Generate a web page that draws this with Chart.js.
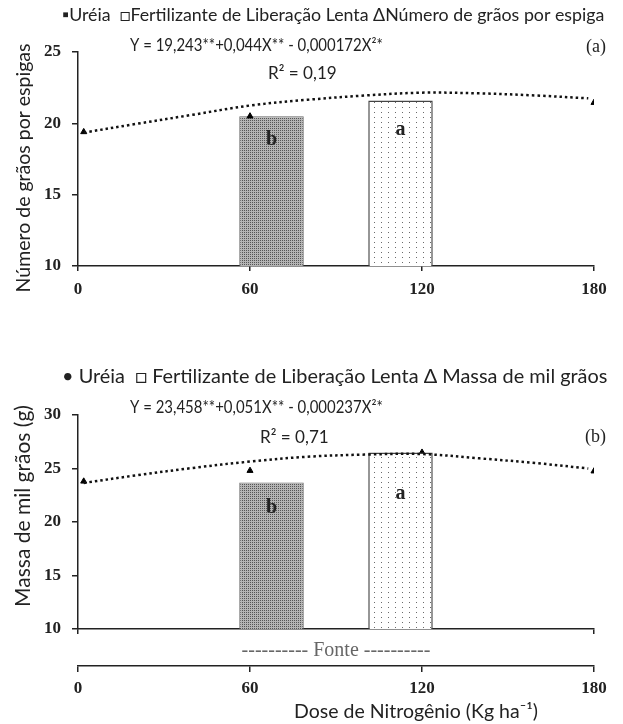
<!DOCTYPE html>
<html>
<head>
<meta charset="utf-8">
<script src="https://cdn.jsdelivr.net/npm/chart.js@4.4.1/dist/chart.umd.min.js"></script>
<style>
  html, body { margin: 0; padding: 0; background: #fff; }
  #wrap { position: relative; width: 623px; height: 724px; }
  #wrap canvas { position: absolute; left: 0; }
</style>
</head>
<body>
<div id="wrap">
  <canvas id="graos" width="623" height="330" style="top:0"></canvas>
  <canvas id="massa" width="623" height="384" style="top:340px"></canvas>
</div>
<script>
// doses de N (kg/ha)
const xTicks = [0, 60, 120, 180];
const barDoses = [67.5, 112.5];
const barLetters = ['b', 'a'];
const pointDoses = [2, 60, 120, 180];
const trendDoses = [2, 20, 40, 60, 80, 100, 120, 140, 160, 178];

// (a) número de grãos por espiga
const graosBars = [20.5, 21.6];
const graosPoints = [19.4, 20.5, 21.3, 21.45];
const graosTrend = [19.35, 19.95, 20.6, 21.25, 21.65, 21.95, 22.15, 22.1, 21.95, 21.75];

// (b) massa de mil grãos
const massaBars = [23.7, 26.5];
const massaPoints = [23.8, 24.8, 26.5, 24.75];
const massaTrend = [23.65, 24.35, 25.05, 25.65, 26.1, 26.3, 26.35, 25.95, 25.5, 25.0];

const serif = '"Liberation Serif", "Times New Roman", serif';
const sans = 'Lato, "Open Sans", sans-serif';
const ink = '#222';

const pts = (xs, ys) => xs.map((x, i) => ({ x: x, y: ys[i] }));

function makePattern(w, h, bg, dots, dotColor) {
  const c = document.createElement('canvas');
  c.width = w; c.height = h;
  const g = c.getContext('2d');
  g.fillStyle = bg;
  g.fillRect(0, 0, w, h);
  g.fillStyle = dotColor;
  dots.forEach(d => g.fillRect(d[0], d[1], 1, 1));
  return g.createPattern(c, 'repeat');
}
const ureiaFill = makePattern(2, 2, '#b4b4b4', [[0, 0]], '#555555');
const lentaFill = makePattern(7, 5, '#ffffff', [[3, 2]], '#6a6a6a');

// textos soltos (legenda, equação, R², títulos) e letras das barras
const notes = {
  id: 'notes',
  afterDatasetsDraw(chart, args, opts) {
    const ctx = chart.ctx;
    (opts.items || []).forEach(t => {
      ctx.save();
      ctx.font = t.font;
      ctx.fillStyle = t.color || ink;
      ctx.textAlign = t.align || 'center';
      ctx.textBaseline = 'middle';
      ctx.translate(t.x, t.y);
      if (t.rotate) ctx.rotate(t.rotate);
      if (t.sx) ctx.scale(t.sx, 1);
      ctx.fillText(t.text, 0, 0);
      ctx.restore();
    });
    (opts.letters || []).forEach((l, i) => {
      const bar = chart.getDatasetMeta(i).data[0];
      ctx.save();
      ctx.font = 'bold 20px ' + serif;
      ctx.fillStyle = ink;
      ctx.textAlign = 'center';
      ctx.textBaseline = 'middle';
      ctx.fillText(l, bar.x, bar.y + opts.letterOffsets[i]);
      ctx.restore();
    });
  }
};

function buildChart(id, o) {
  const tickFont = { family: serif, size: 17, weight: 'bold' };
  const xAxis = {
    type: 'linear', min: xTicks[0], max: xTicks[xTicks.length - 1], offset: false,
    ticks: { stepSize: 60, color: ink, font: tickFont, padding: 8 },
    grid: { drawOnChartArea: false, offset: false, tickLength: 5, color: ink, lineWidth: 1.5 },
    border: { color: ink, width: 1.5 },
    afterFit: s => { s.height = o.xHeight; }
  };
  const scales = {
    x: xAxis,
    y: {
      min: o.yMin, max: o.yMax,
      ticks: { stepSize: 5, color: ink, font: tickFont, padding: 11 },
      grid: { drawOnChartArea: false, tickLength: 6, color: ink, lineWidth: 1.5 },
      border: { color: ink, width: 1.5 },
      afterFit: s => { s.width = 78; }
    }
  };
  if (o.fonte) {
    // eixo de cima sem rótulos, com a "Fonte"; eixo de baixo com as doses
    xAxis.ticks.display = false;
    xAxis.afterBuildTicks = s => { s.ticks = s.ticks.filter(t => t.value === 0 || t.value === 180); };
    xAxis.title = { display: true, text: '---------- Fonte ----------', color: '#666',
      font: { family: serif, size: 20 }, padding: { top: 0, bottom: 3 } };
    scales.x2 = {
      type: 'linear', position: 'bottom', weight: 1, offset: false,
      min: xTicks[0], max: xTicks[xTicks.length - 1],
      ticks: { stepSize: 60, color: ink, font: tickFont, padding: 6 },
      grid: { drawOnChartArea: false, offset: false, tickLength: 6, color: ink, lineWidth: 1.5 },
      border: { color: ink, width: 1.5 },
      afterFit: s => { s.height = o.x2Height; }
    };
  }

  return new Chart(document.getElementById(id), {
    type: 'bar',
    data: {
      datasets: [
        { label: 'Uréia', data: [{ x: barDoses[0], y: o.bars[0] }],
          backgroundColor: ureiaFill, borderColor: '#666', borderWidth: 1, order: 4 },
        { label: 'Fertilizante de Liberação Lenta', data: [{ x: barDoses[1], y: o.bars[1] }],
          backgroundColor: lentaFill, borderColor: '#444', borderWidth: 1.5, order: 2 },
        { type: 'line', label: o.seriesName, data: pts(pointDoses, o.points),
          showLine: false, pointStyle: 'triangle', pointRadius: 3.5,
          pointBackgroundColor: '#000', pointBorderColor: '#000', pointBorderWidth: 1, order: 3 },
        { type: 'line', label: 'Regressão', data: pts(trendDoses, o.trend),
          borderColor: '#111', borderWidth: 2.5, borderDash: [2.5, 3], tension: 0.35,
          pointRadius: 0, fill: false, order: 1 }
      ]
    },
    options: {
      responsive: false,
      animation: false,
      events: [],
      datasets: { bar: { grouped: false, barPercentage: 0.5, categoryPercentage: 1, borderSkipped: false } },
      layout: { padding: { top: o.top, right: 29, left: 0, bottom: 0 } },
      scales: scales,
      plugins: {
        legend: { display: false },
        tooltip: { enabled: false },
        notes: { items: o.notes, letters: barLetters, letterOffsets: o.letterOffsets }
      }
    },
    plugins: [notes]
  });
}

buildChart('graos', {
  yMin: 10, yMax: 25, top: 52, xHeight: 64,
  bars: graosBars, points: graosPoints, trend: graosTrend,
  seriesName: 'Número de grãos por espiga',
  letterOffsets: [24, 29],
  notes: [
    { text: '▪Uréia  □Fertilizante de Liberação Lenta ΔNúmero de grãos por espiga', x: 62, y: 15, font: '17.8px ' + sans, align: 'left' },
    { text: 'Y = 19,243**+0,044X** - 0,000172X²*', x: 130, y: 46, font: '17px ' + sans, align: 'left', sx: 0.88 },
    { text: 'R² = 0,19', x: 268, y: 73, font: '18px ' + sans, align: 'left', sx: 0.95 },
    { text: '(a)', x: 606, y: 47, font: '18px ' + serif, align: 'right' },
    { text: 'Número de grãos por espigas', x: 24, y: 168, font: '19.5px ' + sans, rotate: -Math.PI / 2 }
  ]
});

buildChart('massa', {
  yMin: 10, yMax: 30, top: 75, xHeight: 37, x2Height: 58, fonte: true,
  bars: massaBars, points: massaPoints, trend: massaTrend,
  seriesName: 'Massa de mil grãos',
  letterOffsets: [25, 41],
  notes: [
    { text: '• Uréia  □ Fertilizante de Liberação Lenta Δ Massa de mil grãos', x: 62, y: 37, font: '19.9px ' + sans, align: 'left' },
    { text: 'Y = 23,458**+0,051X** - 0,000237X²*', x: 130, y: 68, font: '17px ' + sans, align: 'left', sx: 0.88 },
    { text: 'R² = 0,71', x: 260, y: 97, font: '18px ' + sans, align: 'left', sx: 0.95 },
    { text: '(b)', x: 606, y: 97, font: '18px ' + serif, align: 'right' },
    { text: 'Massa de mil grãos (g)', x: 23, y: 166, font: '21px ' + sans, rotate: -Math.PI / 2 },
    { text: 'Dose de Nitrogênio (Kg ha⁻¹)', x: 416, y: 372, font: '19.5px ' + sans }
  ]
});
</script>
</body>
</html>
